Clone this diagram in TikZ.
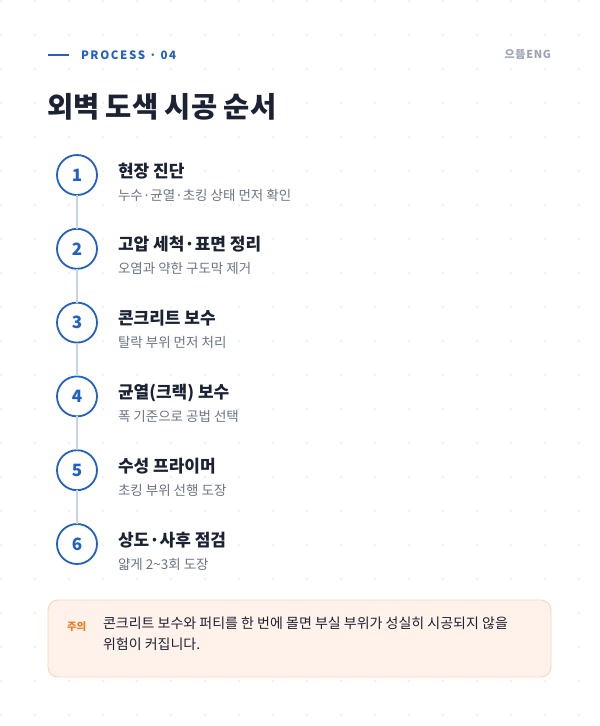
\documentclass[tikz,border=0pt]{standalone}
\usepackage{fontspec}
\setmainfont{Noto Sans CJK KR}
\usetikzlibrary{positioning,calc}

\definecolor{stepblue}{HTML}{2160C4}
\definecolor{linkblue}{HTML}{C3D4EE}
\definecolor{inkdark}{HTML}{1B2233}
\definecolor{inkgray}{HTML}{6B7385}
\definecolor{brandgray}{HTML}{9AA3B5}
\definecolor{dotgray}{HTML}{ECEEF2}
\definecolor{notefill}{HTML}{FFF2EA}
\definecolor{noteline}{HTML}{FAD3B8}
\definecolor{noteorange}{HTML}{F07A22}

\begin{document}
\begin{tikzpicture}[
  x=1pt,y=-1pt,
  every node/.style={inner sep=0pt,outer sep=0pt},
  stepcircle/.style={draw=stepblue,line width=1.8pt,circle,fill=white,minimum size=40pt,
    font=\fontsize{17}{17}\selectfont\bfseries,text=stepblue},
  steptitle/.style={anchor=base west,font=\fontsize{17}{17}\selectfont\bfseries,text=inkdark},
  stepsub/.style={anchor=base west,font=\fontsize{13.5}{13.5}\selectfont,text=inkgray},
  link/.style={draw=linkblue,line width=1.6pt}]

  % Hintergrund
  \fill[white] (0,0) rectangle (600,726);
  \useasboundingbox (0,0) rectangle (600,726);
  \foreach \gx in {0,34,...,600}
    \foreach \gy in {0,34,...,726}
      \fill[dotgray] (\gx+1,\gy+1) circle (1.1pt);

  % Kopfzeile
  \coordinate (bar) at (48,55);
  \draw[stepblue,line width=1.6pt] (bar) -- ++(21,0) coordinate (barend);
  \node[anchor=west,text=stepblue,font=\fontsize{11.5}{11.5}\selectfont\bfseries\addfontfeatures{LetterSpace=14}]
    (kicker) at (81,55) {PROCESS · 04};
  \node[anchor=east,text=brandgray,font=\fontsize{11}{11}\selectfont\bfseries\addfontfeatures{LetterSpace=6}]
    (brand) at (551,55) {으뜸ENG};
  \node[anchor=base west,text=inkdark,font=\fontsize{28.5}{28.5}\selectfont\bfseries]
    (title) at (47,117) {외벽 도색 시공 순서};

  % Schritte
  \foreach \i/\head/\desc in {
      1/현장 진단/누수·균열·초킹 상태 먼저 확인,
      2/고압 세척·표면 정리/오염과 약한 구도막 제거,
      3/콘크리트 보수/탈락 부위 먼저 처리,
      4/균열(크랙) 보수/폭 기준으로 공법 선택,
      5/수성 프라이머/초킹 부위 선행 도장,
      6/상도·사후 점검/얇게 2\textasciitilde3회 도장}{
    \pgfmathsetmacro\cy{175+73.8*(\i-1)}
    \node[stepcircle] (s\i) at (77,\cy) {\i};
    \node[steptitle] (t\i) at (118,\cy+2) {\head};
    \node[stepsub] (d\i) at (118,\cy+25) {\desc};
  }
  \foreach \i [evaluate=\i as \j using int(\i+1)] in {1,...,5}
    \draw[link] (s\i.south) -- (s\j.north);

  % Hinweis
  \draw[draw=noteline,fill=notefill,line width=0.8pt,rounded corners=10pt]
    (48,600) rectangle (551,677);
  \node[anchor=base west,text=noteorange,font=\fontsize{10.5}{10.5}\selectfont\bfseries]
    (notelabel) at (67,630) {주의};
  \node[anchor=north west,text=inkdark,align=left,font=\fontsize{14}{21}\selectfont]
    (notetext) at (103,617) {콘크리트 보수와 퍼티를 한 번에 몰면 부실 부위가 성실히 시공되지 않을\\위험이 커집니다.};

\end{tikzpicture}
\end{document}
